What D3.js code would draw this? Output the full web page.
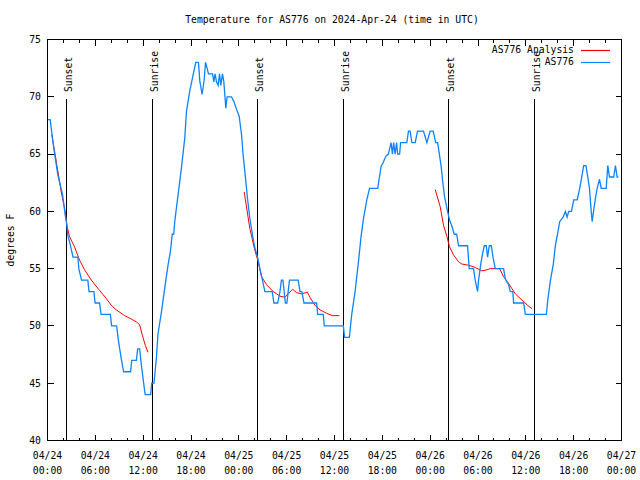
<!DOCTYPE html>
<html><head><meta charset="utf-8">
<script src="https://cdn.jsdelivr.net/npm/d3@7"></script>
<style>
body{margin:0;background:#fff}
svg{display:block}
text{font-family:"DejaVu Sans Mono",monospace;font-size:9.75px;fill:#000}
</style>
</head><body>
<svg id="chart" width="640" height="480"></svg>
<script>
// ---- data ----
const titleText = "Temperature for AS776 on 2024-Apr-24 (time in UTC)";
const yLabel = "degrees F";
const tickHours = [0,6,12,18,24,30,36,42,48,54,60,66,72];
const tickDates = ["04/24","04/24","04/24","04/24","04/25","04/25","04/25","04/25","04/26","04/26","04/26","04/26","04/27"];
const tickTimes = ["00:00","06:00","12:00","18:00","00:00","06:00","12:00","18:00","00:00","06:00","12:00","18:00","00:00"];
const yTicks = [40,45,50,55,60,65,70,75];
const sunHours = [2.35,13.13,26.33,37.1,50.3,61.07];
const sunNames = ["Sunset","Sunrise","Sunset","Sunrise","Sunset","Sunrise"];
const seriesNames = ["AS776 Analysis","AS776"];

// observed AS776 (hours since 04/24 00:00 UTC, deg F)
const obsHours = [0.00,0.34,0.46,0.79,1.29,1.88,2.22,2.43,2.55,2.85,3.20,3.81,3.93,4.27,5.06,5.21,5.82,5.97,6.53,6.72,7.88,8.04,8.67,8.92,9.26,9.55,10.43,10.56,11.15,11.31,11.56,11.77,12.10,12.25,12.94,13.07,13.36,13.66,13.86,14.29,14.70,15.12,15.42,15.64,15.83,15.96,16.37,16.80,17.22,17.43,17.84,18.26,18.60,18.94,19.10,19.39,19.64,19.82,20.02,20.19,20.70,20.86,21.02,21.20,21.40,21.58,21.74,21.95,22.12,22.37,22.53,23.08,23.37,23.71,24.04,24.34,24.54,24.84,25.09,25.38,25.72,26.01,26.35,26.64,26.93,27.27,28.19,28.40,28.87,29.16,29.34,29.53,29.84,30.03,30.35,31.45,31.67,31.91,32.17,33.76,33.89,34.59,34.72,37.11,37.26,37.86,38.16,38.58,38.99,39.33,39.62,40.05,40.40,41.43,41.59,41.84,42.13,42.44,42.76,43.10,43.26,43.42,43.60,43.79,43.92,44.17,44.29,45.07,45.28,45.49,45.70,46.12,46.41,47.16,47.59,48.00,48.38,48.69,48.94,49.13,49.38,49.55,49.80,49.89,50.18,50.43,50.73,51.02,51.33,51.56,52.69,52.90,53.44,53.65,53.95,54.07,54.37,54.57,54.79,55.04,55.20,55.42,55.67,55.88,56.17,57.21,57.43,57.84,58.05,58.37,58.47,59.73,59.94,62.58,62.75,63.09,63.43,63.72,64.00,64.25,64.68,64.97,65.18,65.38,65.72,66.01,66.44,66.76,67.06,67.26,67.54,67.77,67.98,68.20,68.32,68.49,68.74,68.95,69.24,69.45,70.08,70.28,70.49,71.03,71.24,71.45,71.61];
const obsTemps = [68,68,67.3,65.5,63.2,61.5,59.7,58.8,57.9,57.1,56,56,55,54,54,53,53,52,52,51,51,50,50,48.6,47.1,46,46,47,47,48,48,46.6,44.8,44,44,45,45,47.2,49.3,51.2,53.3,55.3,56.5,58,58,59.1,61.4,63.8,66.4,68.7,70.5,71.9,73,73,71.4,70.2,71.4,73,72.5,72,72,71.3,72,71.3,71,72,71,72,71.3,69,70,70,69.6,68.9,68.3,66.7,64.9,62.9,61.1,59.4,57.9,56.8,56,55,54.1,53,53,52,52,53,54,54,52,52,54,54,53,53,52,52,51,51,50,50,49,49,51,53,55.5,57.8,59.3,61,62,62,62.8,63.9,64.3,64.8,65,66,65,66,65,66,65,65,66,66,67,67,66,66,67,67,66,67,67,66,66,65.1,63.9,62.75,61.3,61,60,59.25,58.7,58,58,57,57,55,55,54,53,54,55.5,56.3,57,57,56,57,57,56,55,55,54.1,53.6,53,53,52,52,51,51,52.25,54,55.3,57.1,58.1,59.1,59.5,60,59.5,60,60,61,61,62,63.2,64,64,63,62,60,59.1,60,61.2,62,62.8,62,62,64,63,63,64,63,63];

// analysis AS776 (null separates the nightly runs)
const anaHours = [0.54,1.09,1.72,2.22,2.43,2.76,3.39,4.02,4.65,5.49,6.53,7.37,8.00,8.63,9.68,10.51,11.15,11.56,11.89,12.27,12.61,null,
  24.67,25.38,26.01,26.43,26.85,27.48,28.31,29.15,29.78,30.20,30.75,31.25,31.88,32.59,32.92,33.55,34.18,35.02,35.73,36.61,null,
  48.63,49.26,49.67,50.10,50.43,50.93,51.56,51.98,52.82,53.66,54.50,55.13,55.54,56.71,57.21,57.84,58.68,59.52,60.23,60.78];
const anaTemps = [66.7,64.4,61.7,60.0,58.8,57.8,56.9,55.75,54.9,54.0,53.1,52.4,51.8,51.4,50.9,50.6,50.35,50.1,49.2,48.3,47.7,null,
  61.7,58.5,56.6,55.6,54.3,53.6,53.0,52.6,52.5,52.8,53.2,52.9,52.8,52.95,52.5,51.8,51.4,51.1,50.9,50.9,null,
  61.9,60.4,58.8,57.8,56.9,56.2,55.6,55.4,55.3,55.1,54.8,54.9,55.0,55.0,54.3,53.7,52.8,52.25,51.8,51.5];

// ---- drawing ----
const svg = d3.select("#chart");
const L = 47.5, R = 621.5, T = 39.5, B = 440.5;
const x = d3.scaleLinear().domain([0,72]).range([L,R]);
const y = d3.scaleLinear().domain([40,75]).range([B,T]);
const redC = "#ff0000", blueC = "#0a84ff";

svg.append("rect").attr("width",640).attr("height",480).attr("fill","#fff");

// minor/major ticks
const minorH = d3.range(0,73,2).filter(h => h % 6 !== 0);
const g = svg.append("g").attr("stroke","#000").attr("stroke-width",1).attr("shape-rendering","crispEdges");
tickHours.forEach(h => {
  g.append("line").attr("x1",x(h)).attr("x2",x(h)).attr("y1",B).attr("y2",B-6);
  g.append("line").attr("x1",x(h)).attr("x2",x(h)).attr("y1",T).attr("y2",T+6);
});
minorH.forEach(h => {
  g.append("line").attr("x1",x(h)).attr("x2",x(h)).attr("y1",B).attr("y2",B-3);
  g.append("line").attr("x1",x(h)).attr("x2",x(h)).attr("y1",T).attr("y2",T+3);
});
yTicks.forEach(v => {
  const yy = Math.round(y(v)-0.5)+0.5;
  g.append("line").attr("x1",L).attr("x2",L+6).attr("y1",yy).attr("y2",yy);
  g.append("line").attr("x1",R).attr("x2",R-6).attr("y1",yy).attr("y2",yy);
});

// y tick labels
yTicks.forEach(v => {
  svg.append("text").attr("x",41).attr("y",y(v)).attr("dy","0.35em").attr("text-anchor","end").text(v);
});
// x tick labels
tickHours.forEach((h,i) => {
  const t = svg.append("text").attr("text-anchor","middle");
  t.append("tspan").attr("x",x(h)).attr("y",459).text(tickDates[i]);
  t.append("tspan").attr("x",x(h)).attr("y",474).text(tickTimes[i]);
});

// title, y label
svg.append("text").attr("x",332).attr("y",23).attr("text-anchor","middle").text(titleText);
svg.append("text").attr("transform","translate(14,240) rotate(-90)").attr("text-anchor","middle").text(yLabel);

// sun lines
sunHours.forEach((h,i) => {
  const xx = Math.round(x(h)-0.5)+0.5;
  svg.append("line").attr("x1",xx).attr("x2",xx).attr("y1",99).attr("y2",B)
     .attr("stroke","#000").attr("stroke-width",1).attr("shape-rendering","crispEdges");
  svg.append("text").attr("transform",`translate(${xx+5},92) rotate(-90)`).attr("text-anchor","start").text(sunNames[i]);
});

// data lines
const obs = obsHours.map((h,i) => [h, obsTemps[i]]);
const ana = anaHours.map((h,i) => [h, anaTemps[i]]);
const line = d3.line().defined(d => d[0] !== null).x(d => x(d[0])).y(d => y(d[1]));
svg.append("path").datum(ana).attr("d",line).attr("fill","none").attr("stroke",redC).attr("stroke-width",1);
svg.append("path").datum(obs).attr("d",line).attr("fill","none").attr("stroke",blueC).attr("stroke-width",1.3);

// border
svg.append("rect").attr("x",L).attr("y",T).attr("width",R-L).attr("height",B-T)
   .attr("fill","none").attr("stroke","#000").attr("stroke-width",1).attr("shape-rendering","crispEdges");

// legend
const leg = [[seriesNames[0],redC,50],[seriesNames[1],blueC,62]];
leg.forEach(([name,col,yy]) => {
  svg.append("text").attr("x",574).attr("y",yy).attr("dy","0.35em").attr("text-anchor","end").text(name);
  svg.append("line").attr("x1",581).attr("x2",610).attr("y1",yy+0.5).attr("y2",yy+0.5)
     .attr("stroke",col).attr("stroke-width",1.2);
});
</script>
</body></html>
